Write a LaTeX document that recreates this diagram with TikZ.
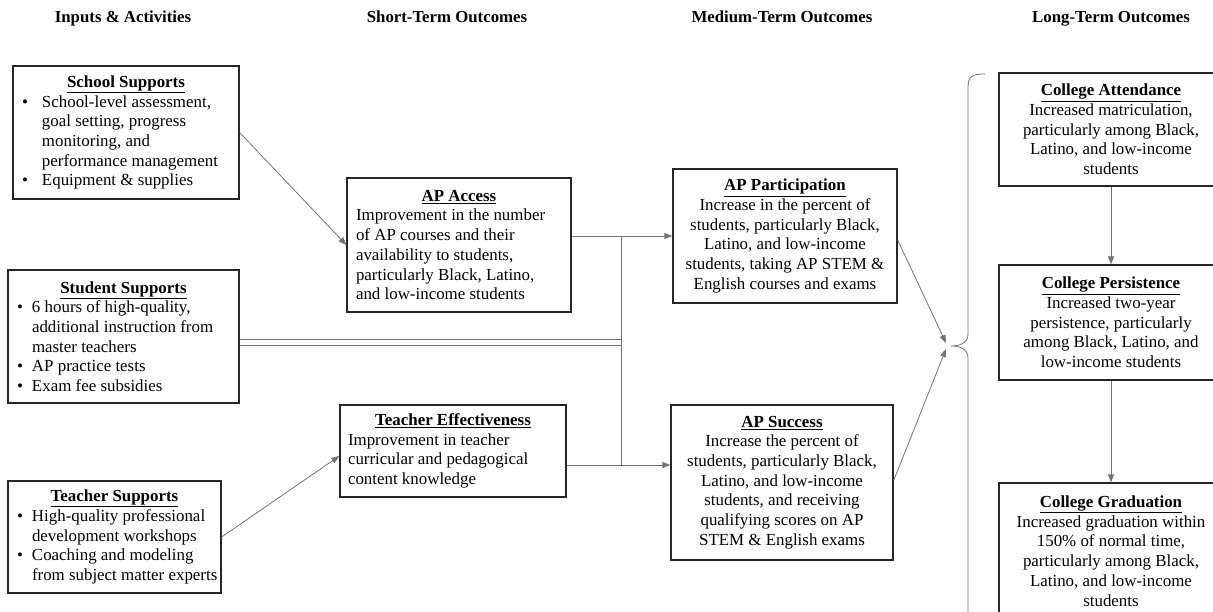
\documentclass[tikz,border=0pt]{standalone}
\usepackage{fontspec}
\setmainfont{Liberation Serif}
\usetikzlibrary{arrows.meta}

\newcommand{\bitem}[2][26pt]{\par\hangindent=#1\hangafter=1\noindent\hbox to #1{\hskip6pt\textbullet\hfil}#2\par}
\newcommand{\nl}{\hfil\break}
\newcommand{\boxtitle}[1]{{\centering\underline{\textbf{#1}}\par}}

\tikzset{
  box/.style={draw=black!85, line width=1.3pt, inner sep=3pt, align=flush left,
    font=\fontsize{16.9}{19.7}\selectfont},
  cbox/.style={box, align=flush center},
  head/.style={anchor=base, font=\fontsize{16.8}{19}\selectfont\bfseries},
  line/.style={draw=black!55, line width=0.8pt},
  arr/.style={line, -{Triangle[length=8pt,width=6pt]}}
}

\begin{document}
\begin{tikzpicture}[x=1pt,y=-1pt]
  \useasboundingbox (0,0) rectangle (1213,612);
  \clip (0,0) rectangle (1213,612);

  % column headings
  \node[head] (h1) at (123,23) {Inputs \& Activities};
  \node[head] (h2) at (447,23) {Short-Term Outcomes};
  \node[head] (h3) at (782,23) {Medium-Term Outcomes};
  \node[head] (h4) at (1111,23) {Long-Term Outcomes};

  % inputs
  \node[box, minimum width=226, minimum height=133, text width=220] (school) at (126,132.5) {%
    \boxtitle{School Supports}%
    \bitem{School-level assessment,\nl goal setting, progress\nl monitoring, and\nl performance management}%
    \bitem{Equipment \& supplies}};
  \node[box, minimum width=231, minimum height=133, text width=225] (student) at (123.5,336.5) {%
    \boxtitle{Student Supports}%
    \bitem[21pt]{6 hours of high-quality,\nl additional instruction from\nl master teachers}%
    \bitem[21pt]{AP practice tests}%
    \bitem[21pt]{Exam fee subsidies}};
  \node[box, minimum width=213, minimum height=112, text width=207] (teacher) at (114.5,537) {%
    \boxtitle{Teacher Supports}%
    \bitem[21pt]{High-quality professional\nl development workshops}%
    \bitem[21pt]{Coaching and modeling\nl \mbox{from subject matter experts}}};

  % short-term
  \node[box, inner xsep=9pt, minimum width=224, minimum height=134, text width=206] (access) at (459,245) {%
    \boxtitle{AP Access}%
    Improvement in the number\\ of AP courses and their\\ availability to students,\\ particularly Black, Latino,\\ and low-income students};
  \node[box, inner xsep=8pt, minimum width=226, minimum height=92, text width=210] (teff) at (453,451) {%
    \boxtitle{Teacher Effectiveness}%
    Improvement in teacher\\ curricular and pedagogical\\ content knowledge};

  % medium-term
  \node[cbox, minimum width=224, minimum height=134] (part) at (785,236) {%
    \underline{\textbf{AP Participation}}\\ Increase in the percent of\\ students, particularly Black,\\ Latino, and low-income\\ students, taking AP STEM \&\\ English courses and exams};
  \node[cbox, minimum width=222, minimum height=155] (succ) at (782,482.5) {%
    \underline{\textbf{AP Success}}\\ Increase the percent of\\ students, particularly Black,\\ Latino, and low-income\\ students, and receiving\\ qualifying scores on AP\\ STEM \& English exams};

  % long-term
  \node[cbox, minimum width=224, minimum height=113] (attend) at (1111,129.5) {%
    \underline{\textbf{College Attendance}}\\ Increased matriculation,\\ particularly among Black,\\ Latino, and low-income\\ students};
  \node[cbox, minimum width=224, minimum height=115] (persist) at (1111,322.5) {%
    \underline{\textbf{College Persistence}}\\ Increased two-year\\ persistence, particularly\\ among Black, Latino, and\\ low-income students};
  \node[cbox, minimum width=224, minimum height=136] (grad) at (1111,551) {%
    \underline{\textbf{College Graduation}}\\ Increased graduation within\\ 150\% of normal time,\\ particularly among Black,\\ Latino, and low-income\\ students};

  % connectors
  \coordinate (jtop) at (621,236);
  \coordinate (jbot) at (621,465);
  \coordinate (tipa) at (946,343);
  \coordinate (tipb) at (946,349);

  \draw[arr] (school.east) -- (access.west);
  \draw[arr] (teacher.east) -- ([yshift=-5]teff.west);
  \draw[arr] (access.east |- jtop) -- (jtop -| part.west);
  \draw[line] (jtop) -- (jbot);
  \draw[arr] (teff.east |- jbot) -- (jbot -| succ.west);
  \draw[line, double=white, double distance=4.5pt] ([yshift=-6]student.east) -- ([yshift=-6]student.east -| jtop);
  \draw[arr] ([yshift=-4]part.east) -- (tipa);
  \draw[arr] ([yshift=2]succ.east) -- (tipb);
  \draw[arr] (attend.south) -- (persist.north);
  \draw[arr] (persist.south) -- (grad.north);

  % brace
  \draw[line] (985,74) .. controls (972,74) and (968,76) .. (968,88) -- (968,334)
    .. controls (968,343) and (960,346) .. (951,346)
    .. controls (960,346) and (968,349) .. (968,358) -- (968,620);
\end{tikzpicture}
\end{document}
